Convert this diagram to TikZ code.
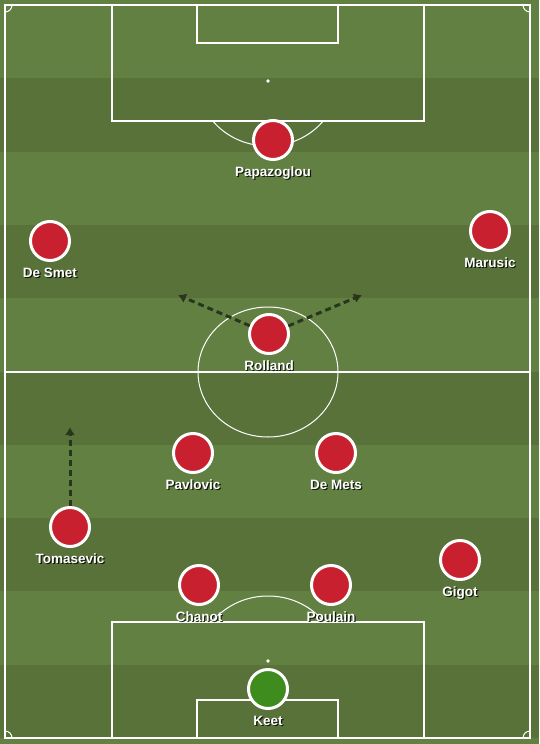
\documentclass[tikz,border=0pt]{standalone}
\usepackage{fontspec}
\setmainfont{Liberation Sans}
\usetikzlibrary{calc,arrows.meta}

\definecolor{grasslight}{RGB}{99,128,67}
\definecolor{grassdark}{RGB}{88,114,58}
\definecolor{shirtred}{RGB}{200,32,46}
\definecolor{keepgreen}{RGB}{62,140,30}
\definecolor{rundark}{RGB}{40,54,30}

\tikzset{
	player/.style={circle, draw=white, line width=3pt, fill=shirtred, minimum size=39pt, inner sep=0pt},
	keeper/.style={player, fill=keepgreen},
	nametxt/.style={anchor=base, inner sep=0pt, text=white, font=\bfseries\fontsize{13.5}{14}\selectfont},
	nameshadow/.style={nametxt, text=black, opacity=0.8},
	pitchline/.style={draw=white, line width=1.3pt},
	thinline/.style={draw=white, line width=1pt},
	run/.style={draw=rundark, line width=3pt, dash pattern=on 6pt off 4pt, -{Latex[length=8pt, width=10pt]}}
}

\begin{document}
\begin{tikzpicture}[x=1pt, y=-1pt]

	\pgfmathsetmacro{\stripe}{73.3}
	\useasboundingbox (0,0) rectangle (539,744);
	\fill[grasslight] (0,0) rectangle (539,744);

	% darker stripes
	\foreach \i in {1,3,...,9}
	{
		\fill[grassdark] (0, 5 + \i * \stripe) rectangle (539, 5 + \i * \stripe + \stripe);
	}

	% pitch markings
	\draw[pitchline] (5,5) rectangle (530,738);
	\draw[pitchline] (5,372) -- (530,372);
	\draw[thinline] (268,372) ellipse [x radius=70, y radius=65];

	\draw[pitchline] (112,5) rectangle (424,121); % top box
	\draw[pitchline] (197,5) rectangle (338,43);
	\fill[white] (268,81) circle [radius=1.8];
	\begin{scope}
		\clip (5,121) rectangle (530,200);
		\draw[thinline] (268,81) ellipse [x radius=70, y radius=65];
	\end{scope}

	\draw[pitchline] (112,622) rectangle (424,738); % bottom box
	\draw[pitchline] (197,700) rectangle (338,738);
	\fill[white] (268,661) circle [radius=1.8];
	\begin{scope}
		\clip (5,540) rectangle (530,622);
		\draw[thinline] (268,661) ellipse [x radius=70, y radius=65];
	\end{scope}

	\begin{scope}
		\clip (5,5) rectangle (530,738);
		\foreach \cx/\cy in {5/5, 530/5, 5/738, 530/738}
			\draw[thinline] (\cx,\cy) circle [radius=7];
	\end{scope}

	% players
	\foreach \nm/\x/\y/\lbl in {papazoglou/273/140/Papazoglou, desmet/50/241/De Smet,
		marusic/490/231/Marusic, rolland/269/334/Rolland, pavlovic/193/453/Pavlovic,
		demets/336/453/De Mets, tomasevic/70/527/Tomasevic, gigot/460/560/Gigot,
		chanot/199/585/Chanot, poulain/331/585/Poulain}
	{
		\node[player] (\nm) at (\x,\y) {};
		\node[nameshadow] at ($(\nm) + (1.2,37.2)$) {\lbl};
		\node[nametxt] (\nm-name) at ($(\nm) + (0,36)$) {\lbl};
	}
	\node[keeper] (keet) at (268,689) {};
	\node[nameshadow] at ($(keet) + (1.2,37.2)$) {Keet};
	\node[nametxt] (keet-name) at ($(keet) + (0,36)$) {Keet};

	% runs
	\coordinate (rolland-left) at (178,295);
	\coordinate (rolland-right) at (362,295);
	\coordinate (tomasevic-up) at (70,427);
	\draw[run] (rolland) -- (rolland-left); % arrow left
	\draw[run] (rolland) -- (rolland-right); % arrow right
	\draw[run] (tomasevic) -- (tomasevic-up); % arrow up

\end{tikzpicture}
\end{document}
